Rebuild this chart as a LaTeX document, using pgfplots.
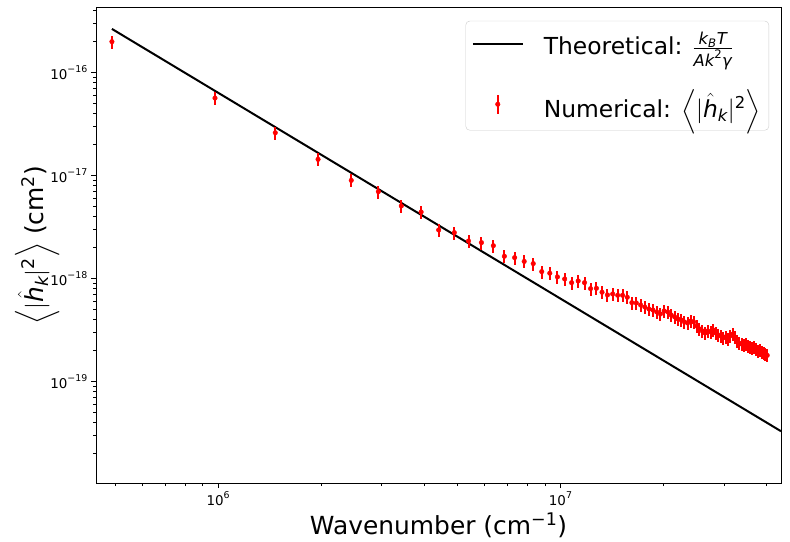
\documentclass[border=0pt]{standalone}
\usepackage{fontspec}
\setmainfont{DejaVu Sans}
\usepackage{amsmath}
\usepackage{pgfplots}
\pgfplotsset{compat=1.18}
\newcommand{\ti}[1]{\text{\itshape #1}}
\begin{document}
\begin{tikzpicture}
\begin{axis}[
  name=ax,
  xmode=log, ymode=log,
  scale only axis, width=685bp, height=476bp,
  xmin=4.394e5, xmax=4.40e7, ymin=1.03e-20, ymax=4.31e-16,
  xtick={1e6,1e7},
  xticklabels={$\text{10}^{\text{6}}$,$\text{10}^{\text{7}}$},
  minor xtick={5e5,6e5,7e5,8e5,9e5,2e6,3e6,4e6,5e6,6e6,7e6,8e6,9e6,2e7,3e7,4e7},
  ytick={1e-19,1e-18,1e-17,1e-16},
  yticklabels={$\text{10}^{\text{−19}}$,$\text{10}^{\text{−18}}$,$\text{10}^{\text{−17}}$,$\text{10}^{\text{−16}}$},
  minor ytick={2e-20,3e-20,4e-20,5e-20,6e-20,7e-20,8e-20,9e-20,
               2e-19,3e-19,4e-19,5e-19,6e-19,7e-19,8e-19,9e-19,
               2e-18,3e-18,4e-18,5e-18,6e-18,7e-18,8e-18,9e-18,
               2e-17,3e-17,4e-17,5e-17,6e-17,7e-17,8e-17,9e-17,
               2e-16,3e-16,4e-16},
  tick align=outside, tick pos=left,
  major tick length=4.7bp, minor tick length=2.7bp,
  every tick/.style={black, line width=0.8bp},
  axis line style={line width=1bp},
  ticklabel style={font=\fontsize{13.5}{16}\selectfont},
  label style={font=\fontsize{25}{30}\selectfont},
  xlabel={Wavenumber (cm$^{\text{−1}}$)},
  ylabel={$\left\langle|\hat{\ti{h}}_{\ti{k}}|^{\text{2}}\right\rangle$ (cm$^{\text{2}}$)},
  ylabel shift=-16bp,
  legend cell align=left,
  legend style={
    at={(1,1)}, anchor=north east, xshift=-12bp, yshift=-13.5bp,
    draw=black!20, rounded corners=4bp, fill=white,
    font=\fontsize{23.5}{28}\selectfont,
    inner xsep=6bp, inner ysep=9bp,
    row sep=29bp,
    nodes={inner sep=2bp},
    /tikz/every odd column/.append style={column sep=18bp},
  },
]
\addplot[black, line width=2bp,
  legend image code/.code={\draw[black, line width=2bp] (0bp,0bp) -- (50bp,0bp);}]
  coordinates {(4.89e5,2.66e-16) (4.40e7,3.3e-20)};
\addlegendentry{Theoretical: $\frac{\ti{k}_{\ti{B}}\ti{T}}{\ti{Ak}^{\text{2}}\ti{γ}}$}
\addplot[red, only marks, mark=*, mark size=2.3bp,
  legend image code/.code={\path[draw=none,fill=none] (0bp,-1bp) rectangle (50bp,1bp);
     \draw[red, line width=2bp] (25bp,-9.5bp) -- (25bp,9.5bp);
     \fill[red] (25bp,0bp) circle (2.3bp);},
  error bars/.cd, y dir=both, y fixed relative=0.145,
  error bar style={red, line width=2bp}, error mark=none]
  table[x=k, y=h] {
k h
4.89e5 2.00e-16
9.78e5 5.67e-17
1.467e6 2.61e-17
1.956e6 1.44e-17
2.445e6 9.00e-18
2.934e6 7.00e-18
3.423e6 5.08e-18
3.912e6 4.44e-18
4.401e6 2.97e-18
4.89e6 2.80e-18
5.379e6 2.32e-18
5.868e6 2.24e-18
6.357e6 2.09e-18
6.846e6 1.65e-18
7.335e6 1.60e-18
7.824e6 1.47e-18
8.313e6 1.40e-18
8.802e6 1.17e-18
9.291e6 1.13e-18
9.78e6 1.04e-18
1.0269e7 9.93e-19
1.0758e7 9.14e-19
1.1247e7 9.50e-19
1.1736e7 9.14e-19
1.2225e7 8.00e-19
1.2714e7 8.07e-19
1.3203e7 7.38e-19
1.3692e7 6.95e-19
1.4181e7 7.10e-19
1.467e7 6.90e-19
1.5159e7 6.90e-19
1.5648e7 6.60e-19
1.6137e7 5.85e-19
1.6626e7 5.81e-19
1.7115e7 5.55e-19
1.7604e7 5.31e-19
1.8093e7 5.08e-19
1.8582e7 4.97e-19
1.9071e7 4.75e-19
1.956e7 4.54e-19
2.0049e7 4.86e-19
2.0538e7 4.75e-19
2.1027e7 4.44e-19
2.1516e7 4.25e-19
2.2005e7 4.06e-19
2.2494e7 3.97e-19
2.2983e7 3.80e-19
2.3472e7 3.71e-19
2.3961e7 3.88e-19
2.445e7 3.80e-19
2.4939e7 3.47e-19
2.5428e7 3.25e-19
2.5917e7 3.11e-19
2.6406e7 2.97e-19
2.6895e7 3.11e-19
2.7384e7 3.04e-19
2.7873e7 3.18e-19
2.8362e7 2.97e-19
2.8851e7 2.84e-19
2.934e7 2.78e-19
2.9829e7 2.66e-19
3.0318e7 2.72e-19
3.0807e7 2.60e-19
3.1296e7 2.78e-19
3.1785e7 2.90e-19
3.2274e7 2.72e-19
3.2763e7 2.48e-19
3.3252e7 2.37e-19
3.3741e7 2.32e-19
3.423e7 2.27e-19
3.4719e7 2.32e-19
3.5208e7 2.22e-19
3.5697e7 2.17e-19
3.6186e7 2.12e-19
3.6675e7 2.17e-19
3.7164e7 2.08e-19
3.7653e7 1.99e-19
3.8142e7 2.03e-19
3.8631e7 1.94e-19
3.912e7 1.90e-19
3.9609e7 1.86e-19
4.0098e7 1.80e-19
};
\addlegendentry{Numerical: $\left\langle|\hat{\ti{h}}_{\ti{k}}|^{\text{2}}\right\rangle$}
\end{axis}
\path ([shift={(-96bp,-58.7bp)}]ax.south west) rectangle ([shift={(9bp,7.3bp)}]ax.north east);
\end{tikzpicture}
\end{document}
